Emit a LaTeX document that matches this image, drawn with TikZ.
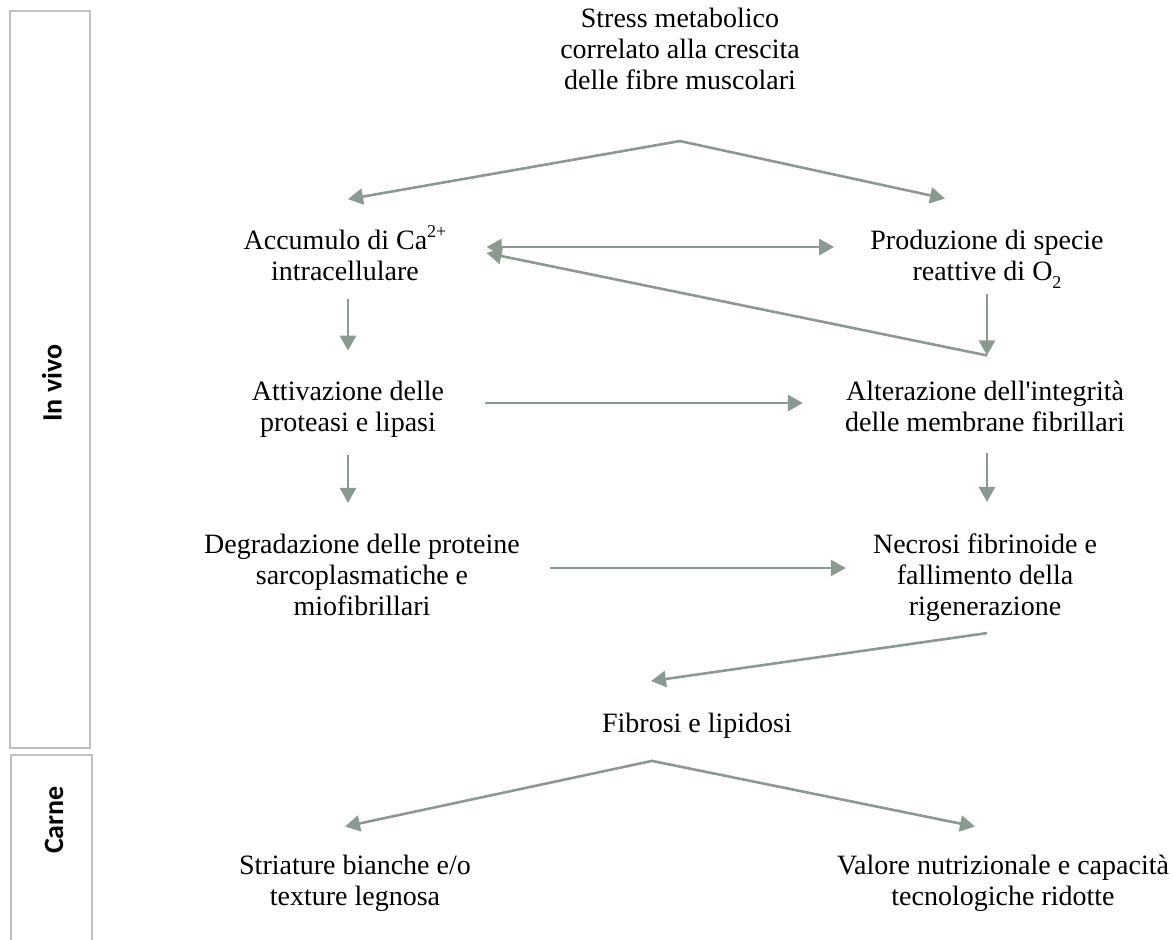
\documentclass[tikz,border=0pt]{standalone}
\usepackage{fontspec}
\setmainfont{Liberation Serif}
\newfontfamily\panelfont{Carlito}
\usepackage{tikz}
\usetikzlibrary{arrows.meta, positioning, calc}
\usepackage{xcolor}
\definecolor{arrowgray}{HTML}{8A9A90}
\definecolor{panelgray}{HTML}{BFBFBF}
\tikzset{
  stage/.style={align=center, inner sep=0pt,
                font=\fontsize{28}{31}\selectfont},
  flow/.style={-{Triangle[length=15pt,width=16pt]}, line width=2.6pt,
               draw=arrowgray},
  flowboth/.style={flow, {Triangle[length=15pt,width=16pt]}-{Triangle[length=15pt,width=16pt]}},
  panel/.style={draw=panelgray, line width=1.3pt},
  panellabel/.style={rotate=90, font=\panelfont\fontsize{28}{28}\selectfont\bfseries},
}
\newcommand{\supsmall}[1]{\raisebox{12pt}{\fontsize{18}{18}\selectfont #1}}
\newcommand{\subsmall}[1]{\raisebox{-8pt}{\fontsize{18}{18}\selectfont #1}}

\begin{document}
\begin{tikzpicture}[x=1pt, y=-1pt]   %% pixel grid, y grows downwards
  \useasboundingbox (0,0) rectangle (1173,940);

  %% ── Side panels ──────────────────────────────────────────────────────────
  \draw[panel] (10,11) rectangle (90,748);
  \draw[panel] (11,950) -- (11,755) -- (92,755) -- (92,950);
  \node[panellabel] (invivo) at (52,383) {In vivo};
  \node[panellabel] (carne)  at (54,820) {Carne};

  %% ── Stages ───────────────────────────────────────────────────────────────
  \node[stage] (stress)    at (680,49)  {Stress metabolico\\correlato alla crescita\\delle fibre muscolari};
  \node[stage] (calcium)   at (345,253) {Accumulo di Ca\supsmall{2+}\\intracellulare};
  \node[stage] (ros)       at (987,259) {Produzione di specie\\reattive di O\subsmall{2}};
  \node[stage] (enzymes)   at (348,409) {Attivazione delle\\proteasi e lipasi};
  \node[stage] (membrane)  at (985,406) {Alterazione dell\textquotesingle integrità\\delle membrane fibrillari};
  \node[stage] (proteins)  at (362,575) {Degradazione delle proteine\\sarcoplasmatiche e\\miofibrillari};
  \node[stage] (necrosis)  at (985,578) {Necrosi fibrinoide e\\fallimento della\\rigenerazione};
  \node[stage] (fibrosis)  at (697,726) {Fibrosi e lipidosi};
  \node[stage] (striature) at (355,883) {Striature bianche e/o\\texture legnosa};
  \node[stage] (quality)   at (1003,883) {Valore nutrizionale e capacità\\tecnologiche ridotte};

  %% ── Split points ─────────────────────────────────────────────────────────
  \coordinate (split1) at ($(stress.south)+(0,51)$);
  \coordinate (meet)   at ($(membrane.north -| ros.south)+(0,-25)$);
  \coordinate (split2) at ($(fibrosis.south)+(-45,22)$);

  %% ── Connectors ───────────────────────────────────────────────────────────
  \draw[flow] (split1) -- ($(calcium.north -| enzymes.north)+(0,-26)$);
  \draw[flow] (split1) -- ($(ros.north)+(-42,-31)$);
  \draw[flowboth] ($(calcium.east)+(40,-6)$) -- ($(calcium.east -| ros.west)+(-36,-6)$);
  \draw[flow] ($(ros.south)+(0,6)$) -- (meet);
  \draw[flow] (meet) -- ($(calcium.east)+(40,0)$);
  \draw[flow] ($(calcium.south -| enzymes.north)+(0,18)$) -- ($(enzymes.north)+(0,-30)$);
  \draw[flow] ($(enzymes.east)+(41,-6)$) -- ($(enzymes.east -| membrane.west)+(-42,-6)$);
  \draw[flow] ($(enzymes.south)+(0,18)$) -- ($(proteins.north -| enzymes.south)+(0,-31)$);
  \draw[flow] ($(membrane.south -| ros.south)+(0,21)$) -- ($(necrosis.north -| ros.south)+(0,-32)$);
  \draw[flow] ($(proteins.east)+(30,-7)$) -- ($(proteins.east -| necrosis.west)+(-27,-7)$);
  \draw[flow] ($(necrosis.south)+(2,11)$) -- ($(fibrosis.north)+(-46,-32)$);
  \draw[flow] (split2) -- ($(striature.north)+(-10,-28)$);
  \draw[flow] (split2) -- ($(quality.north)+(-28,-28)$);

\end{tikzpicture}
\end{document}
